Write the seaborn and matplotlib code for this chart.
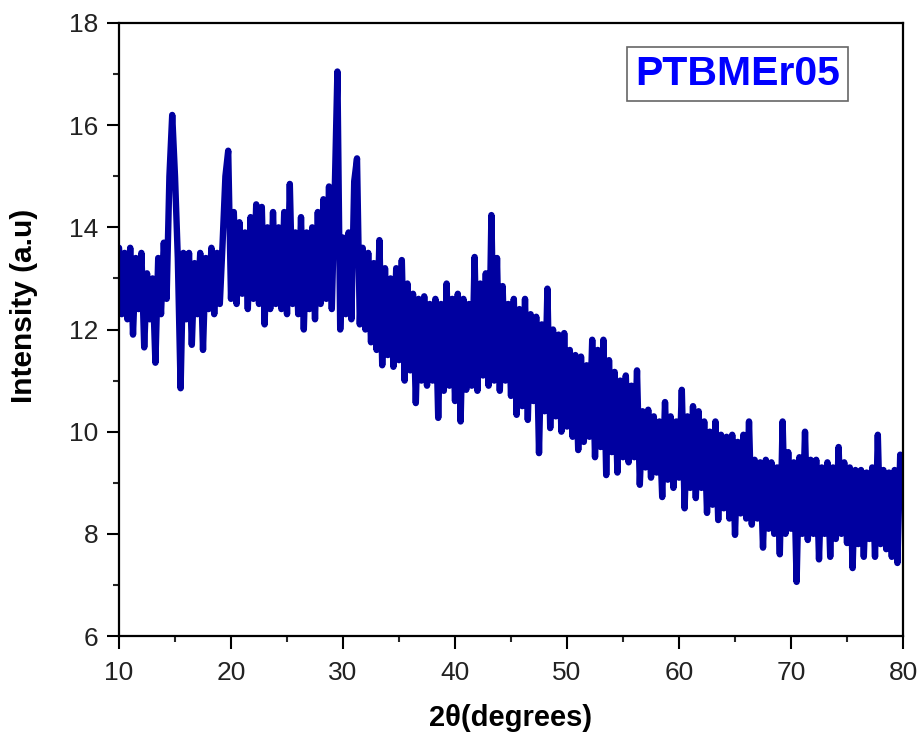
import numpy as np
import matplotlib
matplotlib.use("Agg")
import matplotlib.pyplot as plt
import seaborn as sns
from matplotlib.ticker import MultipleLocator

# XRD scan, values (step 0.25 deg, 8 points per row = 2 deg)
start_angle = 10.0
step = 0.25
intensity = [
    13.6, 12.3, 13.5, 12.2, 13.6, 11.9, 13.4, 12.4,    # 10
    13.5, 11.65, 13.1, 12.2, 13.0, 11.35, 13.4, 12.3,  # 12
    13.7, 12.6, 15.0, 16.2, 15.0, 13.4, 10.85, 13.5,   # 14
    12.2, 13.5, 11.7, 13.3, 12.3, 13.5, 11.6, 13.4,    # 16
    12.4, 13.6, 12.3, 13.5, 12.5, 13.7, 15.0, 15.5,    # 18
    12.6, 14.3, 12.5, 14.1, 12.7, 13.9, 12.4, 14.2,    # 20
    12.6, 14.45, 12.5, 14.4, 12.1, 14.0, 12.4, 14.3,   # 22
    12.5, 14.0, 12.4, 14.3, 12.3, 14.85, 12.5, 13.9,   # 24
    12.3, 14.2, 12.0, 13.9, 12.4, 14.0, 12.2, 14.3,    # 26
    12.5, 14.55, 12.6, 14.8, 12.4, 14.6, 17.05, 12.0,  # 28
    13.8, 12.3, 13.9, 12.2, 14.9, 15.35, 12.1, 13.6,   # 30
    12.0, 13.5, 11.75, 13.3, 11.6, 13.75, 11.3, 13.2,  # 32
    11.5, 13.0, 11.27, 13.2, 11.4, 13.36, 11.0, 12.9,  # 34
    11.2, 12.7, 10.56, 12.6, 11.0, 12.65, 10.9, 12.5,  # 36
    11.0, 12.6, 10.27, 12.5, 10.8, 12.9, 10.9, 12.6,   # 38
    10.6, 12.7, 10.2, 12.6, 10.82, 12.5, 10.9, 13.42,  # 40
    10.8, 12.9, 11.1, 13.1, 10.9, 14.24, 11.0, 13.4,   # 42
    10.8, 12.85, 11.0, 12.5, 10.7, 12.6, 10.33, 12.4,  # 44
    10.5, 12.6, 10.23, 12.3, 10.6, 12.25, 9.58, 12.1,  # 46
    10.4, 12.8, 10.07, 12.0, 10.3, 11.9, 10.0, 11.93,  # 48
    10.1, 11.6, 9.9, 11.5, 9.64, 11.47, 9.8, 11.3,     # 50
    9.9, 11.8, 9.5, 11.6, 9.7, 11.8, 9.15, 11.4,       # 52
    9.6, 11.17, 9.2, 11.0, 9.5, 11.1, 9.4, 10.9,       # 54
    9.5, 11.2, 8.96, 10.4, 9.3, 10.43, 9.1, 10.3,      # 56
    9.2, 10.2, 8.72, 10.58, 9.06, 10.3, 8.9, 10.2,     # 58
    9.1, 10.82, 8.5, 10.3, 8.9, 10.5, 8.7, 10.4,       # 60
    8.9, 10.2, 8.41, 10.0, 8.57, 10.2, 8.27, 9.94,     # 62
    8.5, 9.9, 8.3, 9.94, 7.98, 9.8, 8.4, 9.94,         # 64
    8.3, 10.2, 8.18, 9.45, 8.3, 9.4, 7.73, 9.45,       # 66
    8.1, 9.4, 8.0, 9.3, 7.6, 10.2, 8.0, 9.6,           # 68
    8.1, 9.4, 7.06, 9.5, 8.0, 10.0, 7.88, 9.45,        # 70
    8.0, 9.45, 7.5, 9.3, 8.0, 9.4, 7.55, 9.3,          # 72
    7.9, 9.7, 8.0, 9.4, 7.82, 9.3, 7.33, 9.25,         # 74
    7.8, 9.25, 7.55, 9.2, 7.9, 9.3, 7.55, 9.94,        # 76
    7.8, 9.25, 7.7, 9.2, 7.55, 9.25, 7.43, 9.55,       # 78
    8.6,                                               # 80
]
two_theta = start_angle + step * np.arange(len(intensity))

sample_name = "PTBMEr05"
x_label = "2θ(degrees)"
y_label = "Intensity (a.u)"

sns.set_style("ticks")
plt.rcParams["font.family"] = ["Liberation Sans", "DejaVu Sans"]
plt.rcParams["text.color"] = "black"
plt.rcParams["axes.labelcolor"] = "black"

fig = plt.figure(figsize=(9.19, 7.37), dpi=100)
ax = fig.add_axes([0.1295, 0.137, 0.8531, 0.8318])

sns.lineplot(x=two_theta, y=intensity, color="#0000A0", linewidth=4.6,
             estimator=None, sort=False, ax=ax)

ax.set_xlim(10, 80)
ax.set_ylim(6, 18)
ax.xaxis.set_major_locator(MultipleLocator(10))
ax.xaxis.set_minor_locator(MultipleLocator(5))
ax.yaxis.set_major_locator(MultipleLocator(2))
ax.yaxis.set_minor_locator(MultipleLocator(1))
ax.tick_params(which="major", direction="out", length=9, width=1.5,
               labelsize=19, colors="black", labelcolor="#222222", pad=6)
ax.tick_params(axis="x", which="major", pad=9)
ax.tick_params(which="minor", direction="out", length=4, width=1.5)
for sp in ax.spines.values():
    sp.set_visible(True)
    sp.set_linewidth(1.6)
    sp.set_color("black")

ax.set_xlabel(x_label, fontsize=21, fontweight="bold")
ax.set_ylabel(y_label, fontsize=21.5, fontweight="bold")
ax.xaxis.set_label_coords(0.5, -0.111)
ax.yaxis.set_label_coords(-0.103, 0.538)

ax.text(0.789, 0.917, sample_name, transform=ax.transAxes, ha="center", va="center",
        fontsize=29.5, fontweight="bold", color="#0000FF",
        bbox=dict(boxstyle="square,pad=0.2", facecolor="white",
                  edgecolor="#666666", linewidth=1.2))

fig.savefig("out.png", dpi=100)
